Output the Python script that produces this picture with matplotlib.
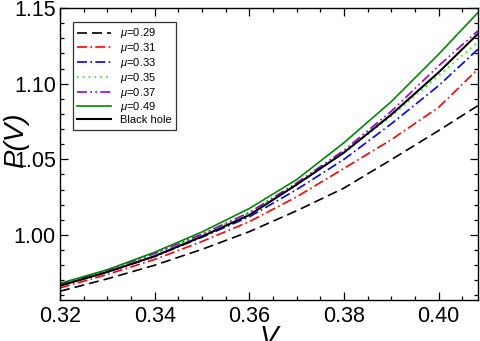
import matplotlib
matplotlib.use("Agg")
import matplotlib.pyplot as plt
from matplotlib.ticker import MultipleLocator

plt.rcParams['font.family'] = ['Liberation Sans', 'DejaVu Sans']
plt.rcParams['mathtext.fontset'] = 'custom'
plt.rcParams['mathtext.it'] = 'Liberation Sans:italic'
plt.rcParams['mathtext.rm'] = 'Liberation Sans'

v = [0.32, 0.33, 0.34, 0.35, 0.36, 0.37, 0.38, 0.39, 0.40, 0.4083]
p_029 = [0.9628, 0.9710, 0.9800, 0.9905, 1.0022, 1.0160, 1.0310, 1.0498, 1.0690, 1.0855]
p_031 = [0.9650, 0.9739, 0.9838, 0.9957, 1.0088, 1.0252, 1.0440, 1.0630, 1.0844, 1.1097]
p_033 = [0.9665, 0.9755, 0.9857, 0.9985, 1.0120, 1.0300, 1.0500, 1.0735, 1.0987, 1.1228]
p_035 = [0.9675, 0.9768, 0.9877, 1.0003, 1.0145, 1.0330, 1.0545, 1.0785, 1.1053, 1.1275]
p_037 = [0.9675, 0.9768, 0.9877, 1.0005, 1.0149, 1.0344, 1.0560, 1.0818, 1.1118, 1.1350]
p_049 = [0.9680, 0.9770, 0.9886, 1.0020, 1.0175, 1.0366, 1.0610, 1.0882, 1.1195, 1.1470]
p_bh = [0.9665, 0.9755, 0.9860, 0.9990, 1.0132, 1.0333, 1.0545, 1.0796, 1.1075, 1.1330]

labels = [r'$\mu$=0.29', r'$\mu$=0.31', r'$\mu$=0.33', r'$\mu$=0.35',
          r'$\mu$=0.37', r'$\mu$=0.49', 'Black hole']
xticks = [0.32, 0.34, 0.36, 0.38, 0.40]
xticklabels = ['0.32', '0.34', '0.36', '0.38', '0.40']
yticks = [1.00, 1.05, 1.10, 1.15]
yticklabels = ['1.00', '1.05', '1.10', '1.15']

fig = plt.figure(figsize=(4.8, 3.41), dpi=100)
ax = fig.add_axes([0.125, 0.1202, 0.8708, 0.8563])

lw = 1.2
ax.plot(v, p_029, color='black', ls=(0, (6, 3)), lw=lw, label=labels[0])
ax.plot(v, p_031, color='red', ls=(0, (6, 2, 1, 2)), lw=lw, label=labels[1])
ax.plot(v, p_033, color='blue', ls=(0, (6, 2, 1, 2)), lw=lw, label=labels[2])
ax.plot(v, p_035, color='#00ff00', ls=(0, (1, 2.5)), lw=lw, label=labels[3])
ax.plot(v, p_037, color='#9900cc', ls=(0, (6, 2, 1, 2, 1, 2)), lw=lw, label=labels[4])
ax.plot(v, p_049, color='#008800', ls='-', lw=lw, label=labels[5])
ax.plot(v, p_bh, color='black', ls='-', lw=1.5, label=labels[6])

ax.set_xlim(0.32, 0.4083)
ax.set_ylim(0.957, 1.15)
ax.xaxis.set_minor_locator(MultipleLocator(0.005))
ax.yaxis.set_minor_locator(MultipleLocator(0.01))
ax.set_xticks(xticks)
ax.set_xticklabels(xticklabels)
ax.set_yticks(yticks)
ax.set_yticklabels(yticklabels)
ax.tick_params(which='both', direction='in', top=True, right=True, labelsize=15.5, width=0.9)
ax.tick_params(which='major', length=6, pad=4)
ax.tick_params(axis='y', which='major', pad=3)
ax.tick_params(which='minor', length=3)
for s in ax.spines.values():
    s.set_linewidth(1.0)

ax.set_xlabel('V', fontsize=20, style='italic')
ax.xaxis.set_label_coords(0.5, -0.085, transform=ax.transAxes)
ax.xaxis.label.set_va('top')
ax.set_ylabel('P(V)', fontsize=20, style='italic')
ax.yaxis.set_label_coords(-0.106, 0.548)
ax.yaxis.label.set_va('center')

leg = ax.legend(loc='upper left', bbox_to_anchor=(0.031, 0.952), borderaxespad=0,
                fontsize=8, frameon=True, fancybox=False, edgecolor='black',
                handlelength=3.0, labelspacing=0.07, borderpad=0.4, handletextpad=0.8)
leg.get_frame().set_linewidth(0.9)

fig.savefig('out.png', dpi=100)
